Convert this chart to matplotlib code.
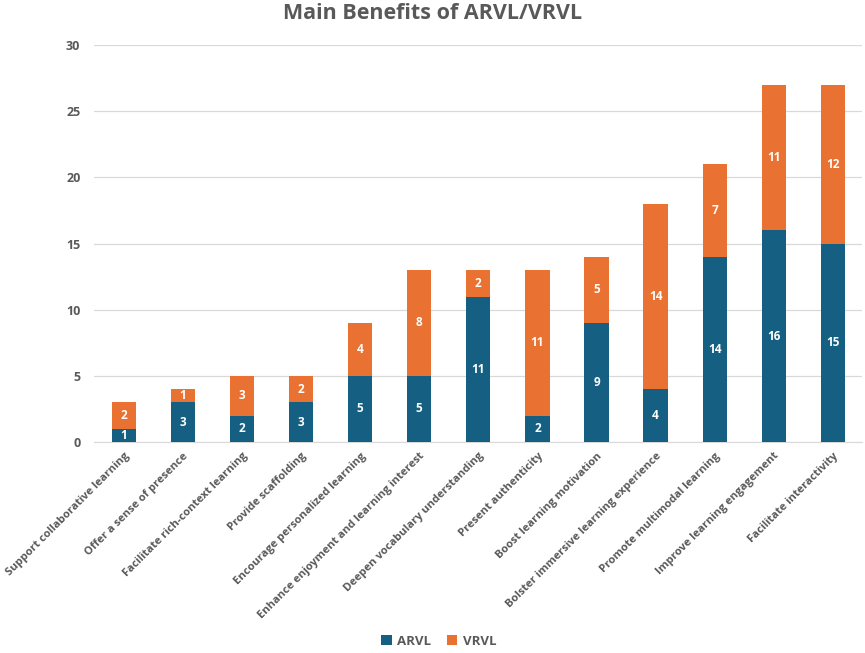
import numpy as np
import matplotlib.pyplot as plt

categories = [
    "Support collaborative learning",
    "Offer a sense of presence",
    "Facilitate rich-context learning",
    "Provide scaffolding",
    "Encourage personalized learning",
    "Enhance enjoyment and learning interest",
    "Deepen vocabulary understanding",
    "Present authenticity",
    "Boost learning motivation",
    "Bolster immersive learning experience",
    "Promote multimodal learning",
    "Improve learning engagement",
    "Facilitate interactivity",
]
arvl = [1, 3, 2, 3, 5, 5, 11, 2, 9, 4, 14, 16, 15]
vrvl = [2, 1, 3, 2, 4, 8, 2, 11, 5, 14, 7, 11, 12]

blue = "#156082"
orange = "#E97132"
grey = "#595959"

plt.rcParams['font.family'] = ['Open Sans', 'DejaVu Sans']

fig = plt.figure(figsize=(8.65, 6.53), dpi=100)
ax = fig.add_axes([0.109, 0.323, 0.888, 0.608])

x = np.arange(len(categories))
b1 = ax.bar(x, arvl, width=0.41, color=blue, label="ARVL", zorder=3)
b2 = ax.bar(x, vrvl, width=0.41, bottom=arvl, color=orange, label="VRVL", zorder=3)

ax.bar_label(b1, label_type='center', color='white', fontsize=8.5, fontweight='bold')
ax.bar_label(b2, label_type='center', color='white', fontsize=8.5, fontweight='bold')

ax.set_xlim(-0.5, len(categories) - 0.5)
ax.set_ylim(0, 30)
ax.set_yticks(range(0, 31, 5))
ax.yaxis.grid(True, color="#d9d9d9", linewidth=0.9, zorder=0)
ax.set_axisbelow(True)
for s in ["top", "right", "left"]:
    ax.spines[s].set_visible(False)
ax.spines["bottom"].set_color("#d9d9d9")
ax.tick_params(axis='both', length=0, colors=grey)
ax.tick_params(axis='y', pad=10)
ax.tick_params(axis='x', pad=6)
for t in ax.get_yticklabels():
    t.set_fontsize(9)
    t.set_fontweight('bold')

ax.set_xticks(x)
ax.set_xticklabels(categories, rotation=45, ha='right', rotation_mode='anchor',
                   fontsize=8, fontweight='bold', color=grey)

fig.suptitle("Main Benefits of ARVL/VRVL", x=0.5, y=0.995, fontsize=15.5,
             fontweight='bold', color=grey)

fig.legend(loc='lower center', bbox_to_anchor=(0.507, -0.01), ncol=2, frameon=False,
           handlelength=0.8, handleheight=0.8, columnspacing=1.2, handletextpad=0.4,
           prop={'size': 9.5, 'weight': 'bold'}, labelcolor=grey)

fig.savefig("out.png", dpi=100)
